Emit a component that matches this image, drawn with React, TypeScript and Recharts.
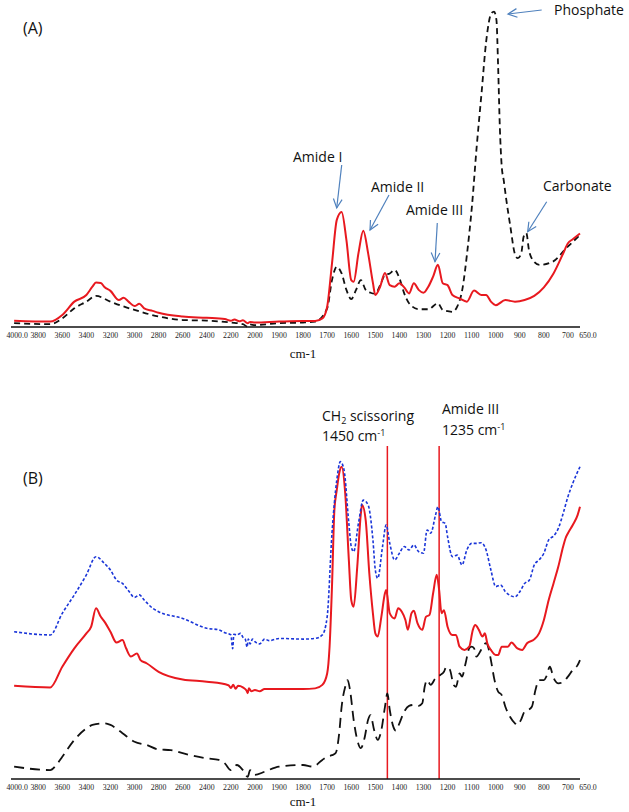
import React from 'react';
import { LineChart, Line, XAxis, YAxis, ReferenceLine } from 'recharts';

// wavenumber axis: 4000-2000 at 200 per step, 2000-650 at 100 per step
const toPos = (w: number) => (w >= 2000 ? (4000 - w) / 200 : 10 + (2000 - w) / 100);

const tickWaves = [4000, 3800, 3600, 3400, 3200, 3000, 2800, 2600, 2400, 2200, 2000,
  1900, 1800, 1700, 1600, 1500, 1400, 1300, 1200, 1100, 1000, 900, 800, 700, 650];

// Panel A - red (solid)
const aRedWave = [4000, 3700, 3600, 3500, 3400, 3350, 3320, 3280, 3250, 3200, 3130, 3090, 3050, 3000, 2960, 2920,
  2850, 2800, 2600, 2400, 2250, 2200, 2170, 2130, 2100, 2060, 2040, 2000, 1900, 1800, 1750, 1720, 1700, 1680,
  1660, 1640, 1620, 1600, 1590, 1570, 1550, 1530, 1510, 1500, 1480, 1460, 1440, 1420, 1400, 1380, 1360, 1340,
  1320, 1300, 1280, 1260, 1240, 1220, 1200, 1180, 1150, 1120, 1090, 1060, 1040, 1020, 1000, 960, 920, 880,
  840, 800, 760, 720, 700, 680, 650];
const aRed = [2.0, 1.7, 3.8, 8.0, 10.1, 12.7, 14.0, 13.9, 12.6, 11.4, 8.5, 9.2, 8.0, 6.6, 7.3, 5.9,
  5.1, 4.5, 3.3, 2.9, 2.5, 2.0, 2.4, 1.8, 2.1, 1.2, 1.6, 1.4, 1.7, 1.9, 1.9, 2.7, 6.4, 20.0,
  33.8, 36.3, 27.4, 14.8, 14.3, 23.3, 30.4, 23.3, 13.9, 10.1, 12.7, 17.0, 13.2, 12.7, 13.8, 12.5, 10.6, 13.8,
  11.7, 10.8, 12.7, 15.9, 19.6, 13.8, 13.2, 10.1, 9.0, 8.0, 11.5, 10.1, 10.1, 8.0, 6.9, 8.5, 8.0, 8.5,
  9.8, 12.5, 16.9, 23.2, 26.4, 27.7, 29.5];

// Panel A - black (dashed)
const aBlackWave = [4000, 3700, 3600, 3500, 3400, 3320, 3200, 3100, 3000, 2800, 2600, 2400, 2200, 2100, 2060,
  2040, 2000, 1900, 1800, 1750, 1700, 1680, 1660, 1640, 1620, 1600, 1580, 1560, 1540, 1520, 1500, 1480, 1460,
  1440, 1420, 1400, 1380, 1360, 1320, 1280, 1240, 1220, 1180, 1160, 1139, 1119, 1099, 1079, 1059, 1039, 1018,
  1007, 997, 990, 983, 975, 967, 956, 939, 921, 908, 894, 884, 873, 862, 846, 818, 763, 708, 650];
const aBlack = [1.2, 0.9, 2.7, 5.9, 8.0, 9.8, 8.0, 6.6, 5.4, 3.3, 2.2, 2.0, 1.4, 0.9, 0.1,
  0.8, 0.6, 1.2, 1.4, 1.7, 5.9, 14.8, 19.0, 16.9, 11.7, 8.8, 11.7, 14.8, 11.7, 10.8, 10.5, 13.2, 16.4,
  16.9, 18.0, 15.4, 10.6, 7.5, 5.6, 5.6, 7.5, 5.4, 4.8, 6.4, 11.7, 23.2, 37.9, 56.9, 73.7, 90.5, 99.0,
  99.5, 96.8, 82.1, 63.2, 50.6, 46.4, 40.1, 31.6, 23.2, 21.7, 23.2, 28.5, 29.6, 24.3, 21.1, 19.6, 20.6, 24.8, 29.0];

// Panel B - blue (dotted)
const bBlueWave = [4000, 3700, 3600, 3500, 3400, 3320, 3250, 3200, 3150, 3100, 3050, 3000, 2960, 2920, 2850,
  2800, 2600, 2400, 2300, 2250, 2200, 2185, 2175, 2150, 2120, 2100, 2080, 2065, 2055, 2040, 2020, 2000, 1980,
  1960, 1940, 1900, 1800, 1750, 1720, 1700, 1680, 1660, 1645, 1630, 1610, 1600, 1590, 1570, 1550, 1530, 1510,
  1500, 1490, 1470, 1455, 1440, 1420, 1400, 1380, 1360, 1340, 1320, 1300, 1285, 1270, 1250, 1240, 1225, 1210,
  1200, 1180, 1160, 1140, 1120, 1100, 1080, 1060, 1040, 1020, 1000, 980, 960, 920, 900, 880, 860, 840, 820,
  800, 780, 760, 740, 720, 700, 680, 650];
const bBlue = [46.3, 45.3, 52.1, 57.9, 64.2, 69.9, 67.8, 65.7, 62.6, 61.5, 59.2, 57.1, 57.9, 56.3, 53.7,
  52.6, 50.5, 47.4, 46.9, 46.0, 45.3, 41.0, 45.5, 45.3, 45.8, 44.6, 44.0, 41.5, 44.0, 42.5, 44.0, 43.2, 42.5,
  44.0, 43.5, 44.2, 44.0, 44.2, 45.3, 51.0, 77.3, 94.0, 99.8, 97.2, 80.4, 73.1, 71.5, 80.4, 87.7, 86.2, 75.2,
  65.7, 63.1, 73.1, 79.9, 74.1, 68.9, 71.0, 73.1, 72.0, 73.6, 71.5, 71.0, 78.3, 77.3, 83.0, 85.6, 80.9, 80.4,
  76.2, 69.9, 70.4, 67.3, 72.0, 74.1, 74.1, 74.3, 72.0, 65.7, 60.5, 61.0, 58.9, 57.3, 58.9, 61.5, 62.6, 67.3, 68.9,
  71.0, 75.2, 76.4, 78.8, 83.5, 88.8, 93.0, 98.2];

// Panel B - red (solid)
const bRedWave = [4000, 3700, 3600, 3500, 3400, 3360, 3320, 3280, 3250, 3200, 3150, 3100, 3070, 3030, 2980,
  2950, 2900, 2800, 2600, 2400, 2220, 2200, 2180, 2160, 2140, 2100, 2070, 2060, 2050, 2030, 2000, 1980, 1960,
  1900, 1800, 1750, 1720, 1700, 1690, 1680, 1670, 1660, 1650, 1640, 1625, 1610, 1600, 1590, 1575, 1560, 1555,
  1540, 1525, 1510, 1500, 1490, 1475, 1460, 1455, 1440, 1420, 1405, 1390, 1375, 1365, 1350, 1340, 1325, 1305,
  1290, 1275, 1260, 1245, 1235, 1225, 1215, 1200, 1180, 1165, 1150, 1130, 1110, 1095, 1085, 1070, 1055, 1045,
  1035, 1020, 1000, 990, 975, 950, 935, 910, 890, 870, 840, 820, 800, 780, 760, 740, 720, 710, 700, 680, 660, 650];
const bRed = [29.3, 28.8, 35.3, 41.1, 45.8, 47.9, 53.7, 51.0, 49.5, 46.3, 42.9, 43.7, 41.1, 38.5, 39.5,
  37.4, 36.4, 33.7, 31.3, 30.6, 29.5, 28.6, 29.6, 28.4, 29.3, 28.8, 27.8, 27.0, 28.5, 27.6, 28.0, 27.6, 28.3,
  28.3, 28.3, 28.5, 29.6, 33.2, 41.6, 60.5, 84.6, 90.9, 96.1, 98.2, 89.8, 68.9, 56.3, 54.2, 66.8, 83.5, 86.2,
  81.4, 64.7, 52.1, 45.8, 44.8, 51.0, 58.4, 59.4, 52.1, 50.5, 53.7, 52.6, 50.0, 46.9, 52.1, 52.9, 49.0, 46.9,
  51.0, 51.6, 58.4, 64.2, 59.4, 52.1, 53.1, 47.9, 45.3, 45.3, 41.6, 40.6, 41.6, 46.9, 48.4, 46.9, 44.8, 45.8,
  42.7, 40.6, 39.0, 39.0, 41.6, 41.6, 42.9, 41.1, 40.6, 42.7, 43.9, 45.8, 50.0, 56.3, 61.5, 66.8, 73.1, 75.7, 77.3, 79.9, 83.0, 85.6];

// Panel B - black (long dash)
const bBlackWave = [4000, 3700, 3650, 3600, 3500, 3400, 3350, 3250, 3200, 3100, 3000, 2900, 2800, 2700, 2600,
  2400, 2300, 2250, 2200, 2150, 2100, 2060, 2040, 2000, 1960, 1900, 1800, 1760, 1720, 1700, 1680, 1665, 1650,
  1640, 1625, 1615, 1605, 1590, 1575, 1560, 1545, 1530, 1520, 1505, 1490, 1475, 1460, 1450, 1440, 1425, 1415,
  1400, 1380, 1360, 1340, 1320, 1305, 1295, 1285, 1270, 1250, 1230, 1215, 1205, 1190, 1175, 1165, 1150, 1140,
  1125, 1110, 1100, 1090, 1080, 1065, 1050, 1040, 1030, 1020, 1005, 990, 975, 960, 940, 920, 910, 895, 880,
  865, 850, 835, 820, 800, 790, 775, 765, 755, 740, 720, 700, 680, 660, 650];
const bBlack = [3.9, 2.8, 4.4, 7.0, 12.3, 15.9, 17.0, 17.5, 17.0, 14.4, 11.7, 10.7, 9.3, 9.1, 8.1,
  6.5, 6.0, 4.9, 2.8, 4.4, 2.8, 0.7, 2.8, 1.3, 2.3, 3.9, 4.4, 3.9, 6.0, 7.0, 7.5, 8.1, 14.4,
  22.7, 29.0, 31.1, 28.0, 18.6, 12.3, 9.7, 12.8, 18.6, 20.1, 15.4, 12.3, 15.4, 22.7, 26.9, 21.7, 16.4, 15.2,
  17.5, 21.2, 23.0, 23.3, 23.0, 23.8, 29.0, 31.1, 29.6, 31.7, 32.7, 33.7, 35.3, 34.3, 29.6, 29.0, 33.2, 32.2,
  36.4, 41.1, 41.6, 41.1, 38.5, 40.0, 42.1, 42.7, 41.1, 37.4, 31.1, 27.5, 26.4, 22.7, 19.5, 17.5, 17.0, 18.6, 21.2,
  21.7, 22.7, 28.0, 31.1, 31.1, 32.2, 35.3, 33.2, 31.1, 30.1, 30.5, 32.2, 34.3, 35.8, 37.4];

const markerWaves = [1450, 1235];

const build = (waves: number[], vals: number[]) => waves.map((w, i) => ({ pos: toPos(w), v: vals[i] }));

const ARROW = '#4f81bd';
const RED = '#e8191f';
const SANS = '"Open Sans", sans-serif';
const SERIF = '"Liberation Serif", "Times New Roman", serif';

const WaveTick = (props: any) => {
  const { x, y, index } = props;
  const w = tickWaves[index];
  const label = w === 4000 || w === 650 ? w.toFixed(1) : String(w);
  const dx = w === 4000 ? 3 : w === 650 ? 8 : 0;
  return (
    <text x={x + dx} y={y} dy="0.71em" textAnchor="middle" fontSize={7.8} fontFamily={SERIF} fill="#222">
      {label}
    </text>
  );
};

const Arrow = ({ x1, y1, x2, y2 }: { x1: number; y1: number; x2: number; y2: number }) => {
  const a = Math.atan2(y2 - y1, x2 - x1);
  const len = 10;
  const s = 0.45;
  const p1 = [x2 - len * Math.cos(a - s), y2 - len * Math.sin(a - s)];
  const p2 = [x2 - len * Math.cos(a + s), y2 - len * Math.sin(a + s)];
  return (
    <g stroke={ARROW} strokeWidth={1.2} fill="none">
      <line x1={x1} y1={y1} x2={x2} y2={y2} />
      <polyline points={`${p1[0]},${p1[1]} ${x2},${y2} ${p2[0]},${p2[1]}`} />
    </g>
  );
};

const axisProps = {
  type: 'number' as const,
  dataKey: 'pos',
  domain: [toPos(4000) - 0.13, toPos(650)],
  ticks: tickWaves.map(toPos),
  interval: 0 as const,
  tickLine: false,
  tickSize: 5,
  tickMargin: 0,
  axisLine: { stroke: '#111', strokeWidth: 1.5 },
  height: 30,
  tick: <WaveTick />,
};

export default function App() {
  return (
    <div style={{ position: 'absolute', left: 0, top: 0, width: 629, height: 812, background: '#fff' }}>
      <div style={{ position: 'absolute', left: 0, top: 0 }}>
        <LineChart width={629} height={370} margin={{ top: 10, right: 49, left: 11, bottom: 13 }}>
          <XAxis {...axisProps} />
          <YAxis type="number" domain={[0, 100]} width={0} tick={false} tickLine={false}
            axisLine={{ stroke: '#111', strokeWidth: 1.5 }} />
          <Line data={build(aBlackWave, aBlack)} dataKey="v" type="monotone" stroke="#111" strokeWidth={1.8}
            strokeDasharray="6 4" dot={false} isAnimationActive={false} />
          <Line data={build(aRedWave, aRed)} dataKey="v" type="monotone" stroke={RED} strokeWidth={2}
            dot={false} isAnimationActive={false} />
        </LineChart>
      </div>
      <div style={{ position: 'absolute', left: 0, top: 390 }}>
        <LineChart width={629} height={420} margin={{ top: 71, right: 49, left: 11, bottom: 1 }}>
          <XAxis {...axisProps} />
          <YAxis type="number" domain={[0, 100]} width={0} tick={false} tickLine={false}
            axisLine={{ stroke: '#111', strokeWidth: 1.5 }} />
          {markerWaves.map((w) => (
            <ReferenceLine key={w} segment={[{ x: toPos(w), y: 0 }, { x: toPos(w), y: 104.7 }]}
              stroke={RED} strokeWidth={1.5} ifOverflow="visible" />
          ))}
          <Line data={build(bBlackWave, bBlack)} dataKey="v" type="monotone" stroke="#111" strokeWidth={1.8}
            strokeDasharray="10 6" dot={false} isAnimationActive={false} />
          <Line data={build(bRedWave, bRed)} dataKey="v" type="monotone" stroke={RED} strokeWidth={2}
            dot={false} isAnimationActive={false} />
          <Line data={build(bBlueWave, bBlue)} dataKey="v" type="monotone" stroke="#1a35d8" strokeWidth={1.6}
            strokeDasharray="3 2" dot={false} isAnimationActive={false} />
        </LineChart>
      </div>
      <svg width={629} height={812} style={{ position: 'absolute', left: 0, top: 0, pointerEvents: 'none' }}>
        <g fontFamily={SANS} fontSize={14} fill="#111">
          <text x={23} y={34} fontSize={16}>(A)</text>
          <text x={23} y={484} fontSize={16}>(B)</text>
          <text x={293} y={162}>Amide I</text>
          <text x={371} y={192}>Amide II</text>
          <text x={406} y={215}>Amide III</text>
          <text x={554} y={15}>Phosphate</text>
          <text x={543} y={191}>Carbonate</text>
          <text x={322} y={421}>CH<tspan fontSize={9} dy={3}>2</tspan><tspan dy={-3}> scissoring</tspan></text>
          <text x={322} y={441}>1450 cm<tspan fontSize={9} dy={-5}>-1</tspan></text>
          <text x={442} y={414}>Amide III</text>
          <text x={442} y={435}>1235 cm<tspan fontSize={9} dy={-5}>-1</tspan></text>
        </g>
        <g fontFamily={SERIF} fontSize={13} fill="#111" textAnchor="middle">
          <text x={303} y={358}>cm-1</text>
          <text x={303} y={806}>cm-1</text>
        </g>
        <Arrow x1={341.7} y1={165} x2={336.7} y2={208} />
        <Arrow x1={389} y1={195} x2={370} y2={230} />
        <Arrow x1={437.3} y1={223} x2={435} y2={261.7} />
        <Arrow x1={541.7} y1={10} x2={508} y2={14} />
        <Arrow x1={546.7} y1={201.7} x2={527.7} y2={231.7} />
      </svg>
    </div>
  );
}
